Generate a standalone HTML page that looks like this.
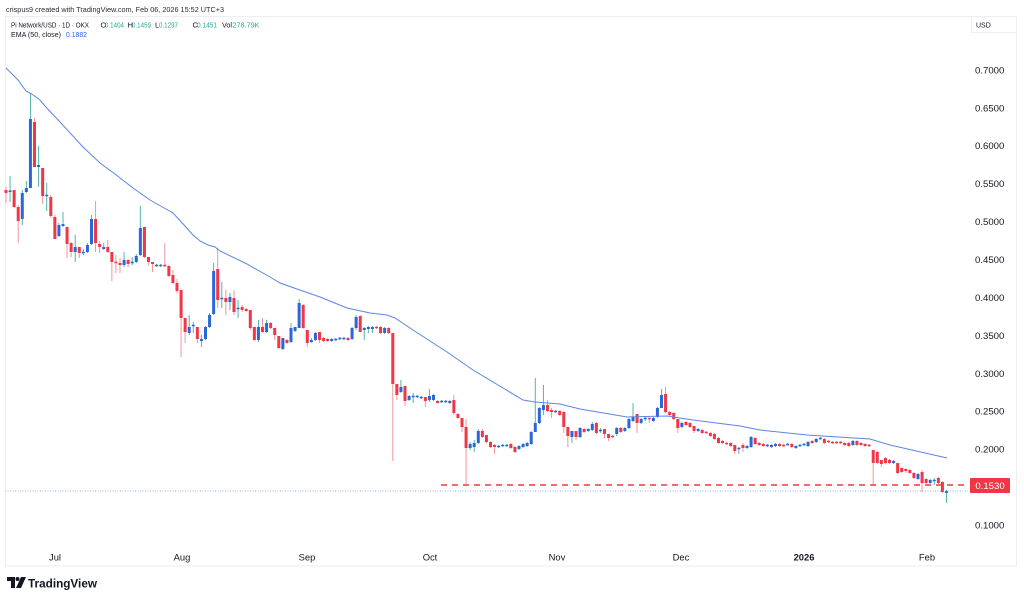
<!DOCTYPE html>
<html><head><meta charset="utf-8">
<style>
html,body{margin:0;padding:0;background:#fff;}
body{width:1024px;height:601px;overflow:hidden;}
svg{display:block;font-family:"Liberation Sans",Arial,sans-serif;}
</style></head>
<body>
<svg id="c" width="1024" height="601" viewBox="0 0 1024 601" xmlns="http://www.w3.org/2000/svg">
<rect x="0" y="0" width="1024" height="601" fill="#ffffff"/>
<rect x="5.5" y="16.5" width="1011" height="549.5" fill="none" stroke="#eceef2" stroke-width="1"/>
<rect x="971.5" y="16.5" width="45" height="16" fill="none" stroke="#eceef2" stroke-width="1"/>
<text x="976" y="27.5" font-size="7" fill="#131722">USD</text>

<text x="6" y="11.8" font-size="7.4" fill="#2a2e39" textLength="218" lengthAdjust="spacingAndGlyphs">crispus9 created with TradingView.com, Feb 06, 2026 15:52 UTC+3</text>

<text x="11" y="27.6" font-size="7.6" fill="#131722" textLength="78" lengthAdjust="spacingAndGlyphs">Pi Network/USD · 1D · OKX</text>
<text x="100.5" y="27.6" font-size="7.6" fill="#131722">O</text>
<text x="105" y="27.6" font-size="7.6" fill="#22ab94" textLength="19" lengthAdjust="spacingAndGlyphs">0.1404</text>
<text x="127.5" y="27.6" font-size="7.6" fill="#131722">H</text>
<text x="132" y="27.6" font-size="7.6" fill="#22ab94" textLength="19" lengthAdjust="spacingAndGlyphs">0.1459</text>
<text x="155" y="27.6" font-size="7.6" fill="#131722">L</text>
<text x="159" y="27.6" font-size="7.6" fill="#22ab94" textLength="19" lengthAdjust="spacingAndGlyphs">0.1297</text>
<text x="192.5" y="27.6" font-size="7.6" fill="#131722">C</text>
<text x="197" y="27.6" font-size="7.6" fill="#22ab94" textLength="20" lengthAdjust="spacingAndGlyphs">0.1451</text>
<text x="222" y="27.6" font-size="7.6" fill="#131722" textLength="10" lengthAdjust="spacingAndGlyphs">Vol</text>
<text x="232.5" y="27.6" font-size="7.6" fill="#22ab94" textLength="27" lengthAdjust="spacingAndGlyphs">278.79K</text>

<text x="11" y="36.8" font-size="7.6" fill="#131722" textLength="50" lengthAdjust="spacingAndGlyphs">EMA (50, close)</text>
<text x="66" y="36.8" font-size="7.6" fill="#2962ff" textLength="21" lengthAdjust="spacingAndGlyphs">0.1882</text>

<g font-size="9.6" fill="#131722">
<text x="975" y="73.4">0.7000</text>
<text x="975" y="111.3">0.6500</text>
<text x="975" y="149.2">0.6000</text>
<text x="975" y="187.1">0.5500</text>
<text x="975" y="225.1">0.5000</text>
<text x="975" y="263">0.4500</text>
<text x="975" y="300.9">0.4000</text>
<text x="975" y="338.8">0.3500</text>
<text x="975" y="376.8">0.3000</text>
<text x="975" y="414.7">0.2500</text>
<text x="975" y="452.6">0.2000</text>
<text x="975" y="528.4">0.1000</text>
</g>

<g font-size="9.4" fill="#131722" text-anchor="middle">
<text x="55" y="560.5">Jul</text>
<text x="182" y="560.5">Aug</text>
<text x="307" y="560.5">Sep</text>
<text x="430" y="560.5">Oct</text>
<text x="557" y="560.5">Nov</text>
<text x="681" y="560.5">Dec</text>
<text x="804" y="560.5" font-weight="bold">2026</text>
<text x="927" y="560.5">Feb</text>
</g>

<g id="candles"></g>

<polyline fill="none" stroke="#5b86e5" stroke-width="1" points="6,68 18,80 26,91 31,93.5 40,100 45,106 60,122 83,147 100,163 115,174 133,188 150,200 173,213 185,226 193,235 200,241 208,245 215,247 220,251 247,264 270,277 280,283 297,289 320,297 347,308 370,313 387,315 395,318 413,330 447,352 473,370 503,388 523,400 535,402 560,404 580,409 627,417 667,416 693,420 740,426 760,430 807,435 870,439 890,445 947,458"/>

<line x1="5" y1="491" x2="968" y2="491" stroke="#8fb3ea" stroke-width="1" stroke-dasharray="1,1.5"/>
<line x1="441" y1="485" x2="968" y2="485" stroke="#f23645" stroke-width="1.4" stroke-dasharray="6,5"/>
<rect x="970" y="478" width="40" height="15" fill="#f23645" rx="1"/>
<text x="990" y="489" font-size="9.6" fill="#ffffff" text-anchor="middle">0.1530</text>

<g transform="translate(7,577)">
<path d="M0 0 H8 V11 H4 V4 H0 Z" fill="#131722"/>
<circle cx="10.5" cy="2" r="2" fill="#131722"/>
<path d="M14 0 H19 L14 11 H9 Z" fill="#131722"/>
</g>
<text x="28" y="587.5" font-size="12" font-weight="bold" fill="#131722" textLength="69" lengthAdjust="spacingAndGlyphs">TradingView</text>
</svg>
<script>
var D=[
[0,190,193,187,203],[1,190.7,191.7,176,202],[0,190,207,190,208],[0,207,221,205,243],[1,193,219,190,225],[1,188,192,181,193],[1,119,188,93,188],[0,122,167,118,167],[1,165,167,146,187],[0,168,196,168,204],
[1,195,196,183,211],[0,197,216,195,218],[0,217,239,215,239],[1,225,236,223,237],[1,224,226,212,227],[0,227,244,227,258],[0,243,252,242,257],[1,247,252,235,262],[0,247,253,247,258],[1,252,253,249,255],
[1,245,252,243,253],[1,219,244,215,245],[0,219,243,201,252],[0,244,247,241,253],[1,247,249,243,250],[0,247,252,240,253],[0,252,262,252,281],[0,262,263,255,273],[0,263,265,258,273],[1,260,265,252,267],
[0,260,264,259,267],[1,262,263,257,265],[1,256,262,254,263],[1,228,255,206,256],[0,227,257,227,258],[0,257,262,257,265],[0,262,264,262,272],[1,265,266,264,267],[1,265,266],[0,265,266,243,267],
[0,266,276,265,277],[0,275,283,270,284],[0,283,291,279,293],[0,290,318,290,357],[0,318,332,318,343],[1,327,333,315,335],[1,325,326,322,333],[0,327,339,327,343],[1,339,341,335,347],[1,327,339,326,340],
[1,315,327,313,328],[1,271,314,263,315],[0,269,300,248,308],[1,298,299,282,308],[0,298,302,290,315],[1,297,302,293,310],[0,298,312,290,315],[1,308,309,300,318],[0,307,310,305,312],[0,309,311,308,312],
[0,310,328,310,330],[0,327,340,327,341],[1,327,340,320,342],[0,327,332,318,333],[1,323,332,320,333],[0,323,328,322,329],[0,328,335,328,340],[0,336,348,336,349],[1,338,349,338,350],[0,340,343,339,344],
[1,328,342,323,343],[1,327,331,327,332],[1,303,328,299,328],[0,305,328,304,329],[0,330,343,330,347],[1,340,342,338,343],[1,333,340,332,341],[0,332,340,332,343],[0,338,341],[0,339,341],
[1,339,341],[1,339,340],[1,338,339],[1,338,339],[0,338,340],[1,328,339],[1,317,328,315,330],[0,316,332,315,332],[1,328,330,327,340],[1,327,329,326,333],
[1,327,329,326,333],[0,327,328],[0,327,333],[1,328,333],[0,328,333],[0,333,384,333,461],[0,384,395,384,400],[1,387,392,380,393],[0,386,401,386,406],[1,396,400,395,401],
[1,396,397,393,403],[1,396,397],[1,397,398],[0,397,401,397,407],[1,396,400,389,402],[1,395,400],[0,401,403],[1,401,402],[1,401,402],[1,401,403],
[0,400,413,395,415],[0,414,418],[0,418,427,418,432],[0,427,448,419,485],[1,444,448,442,450],[1,443,447,440,452],[1,431,443,429,444],[0,431,437,429,438],[0,435,442,435,443],[0,442,447],
[0,445,447,444,454],[1,446,447],[1,445,446],[1,445,446],[0,444,448],[0,447,452],[1,446,449],[1,444,447],[1,443,446],[1,432,444],
[1,423,432,378,432],[1,408,423],[1,405,410,385,415],[0,405,411,400,412],[0,410,412,408,418],[1,411,412],[0,411,415],[0,412,427,411,433],[0,427,436,427,447],[1,431,437,431,443],
[0,431,437,431,440],[1,428,437,427,438],[0,429,432],[1,429,431],[1,424,430,422,431],[0,423,433],[1,430,431,428,433],[0,429,434,429,438],[0,434,438,434,441],[0,436,437],
[1,428,434,427,436],[0,428,432],[1,428,431],[1,419,428],[1,417,421,403,422],[0,414,423,414,433],[1,419,423],[1,418,419,416,421],[0,418,419,418,423],[1,418,421],
[1,408,417],[1,395,408,389,408],[0,394,412,387,413],[0,412,415],[0,413,419,412,420],[0,419,428,419,433],[1,423,427],[0,422,425],[0,423,427],[0,426,431,426,433],
[1,429,431],[0,430,433],[0,432,433],[0,433,436],[0,434,439],[0,438,443],[0,441,443],[0,443,444],[0,443,446],[0,445,451,445,454],
[1,448,449,447,454],[0,445,448,443,452],[1,446,448],[1,437,447],[0,438,444],[0,443,445],[0,444,446],[1,445,446],[1,445,447],[1,444,446],
[0,444,446],[0,445,446],[1,444,445],[0,444,447],[1,446,448],[1,445,446],[1,444,445],[1,442,446],[0,441,443],[1,439,442],
[1,438,439],[0,439,443],[0,441,442],[0,442,443],[0,442,443],[0,442,443],[0,443,445],[0,443,446],[1,441,445],[0,441,445],
[0,443,445],[0,444,446],[0,445,446],[0,450,463,450,485],[0,452,463],[0,460,464,460,467],[0,458,463],[0,460,463],[1,461,463],[0,463,473,463,474],
[0,468,472],[0,469,471,468,473],[0,470,473],[0,473,478],[1,474,479],[0,472,483,470,492],[0,479,483],[1,480,483],[1,480,481,478,485],[0,478,483],
[0,482,492,481,493],[1,491,493,490,503]
];
(function(){
var n=D.length, step=(946.5-6)/(n-1);
var uw="",dw="",ub="",db="";
for(var i=0;i<n;i++){
 var d=D[i], x=6+i*step, t=d[1], b=d[2];
 var h=(d.length>3)?d[3]:t-1, l=(d.length>4)?d[4]:b+1;
 if(b-t<1.5){var m=(t+b)/2;t=m-0.75;b=m+0.75;}
 var xs=x.toFixed(2);
 var w="M"+xs+" "+h+"V"+l;
 var bd="M"+(x-1.5).toFixed(2)+" "+t.toFixed(2)+"h3V"+b.toFixed(2)+"h-3Z";
 if(d[0]){uw+=w;ub+=bd;}else{dw+=w;db+=bd;}
}
var g=document.getElementById("candles");
g.innerHTML='<path d="'+dw+'" stroke="#f3949b" stroke-width="1" fill="none"/>'+
 '<path d="'+uw+'" stroke="#53b8a4" stroke-width="1" fill="none"/>'+
 '<path d="'+db+'" fill="#f23645"/>'+
 '<path d="'+ub+'" fill="#2b67d8"/>';
})();
</script>
</body></html>
